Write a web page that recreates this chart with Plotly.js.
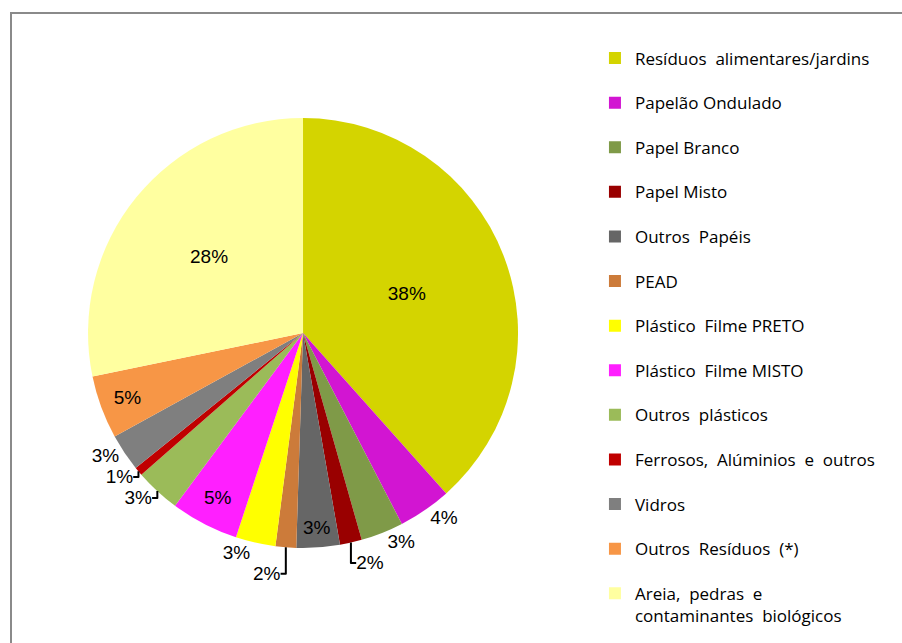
<!DOCTYPE html>
<html>
<head>
<meta charset="utf-8">
<script src="https://cdn.plot.ly/plotly-3.0.1.min.js"></script>
<style>
	html, body { margin: 0; padding: 0; background: #fff; }
	#chart { width: 902px; height: 643px; }
</style>
</head>
<body>
<div id="chart"></div>
<script>
const categories = [
	"Resíduos  alimentares/jardins",
	"Papelão Ondulado",
	"Papel Branco",
	"Papel Misto",
	"Outros  Papéis",
	"PEAD",
	"Plástico  Filme PRETO",
	"Plástico  Filme MISTO",
	"Outros  plásticos",
	"Ferrosos,  Alúminios  e  outros",
	"Vidros",
	"Outros  Resíduos  (*)",
	"Areia,  pedras  e<br>contaminantes  biológicos"
];
const shares = [38.4, 4.0, 3.2, 1.65, 3.25, 1.55, 3.0, 5.1, 3.4, 0.65, 2.8, 4.75, 28.25];
const colors = [
	"#d4d400", "#d215d2", "#7f9a48", "#990000", "#666666", "#cc7b3a", "#ffff00",
	"#ff1fff", "#9bbb59", "#c00000", "#7f7f7f", "#f79646", "#ffffa0"
];
const labelPlace = [
	"inside", "outside", "outside", "outside", "inside", "outside", "outside",
	"inside", "outside", "outside", "outside", "inside", "inside"
];

const pie = {
	type: "pie",
	labels: categories,
	values: shares,
	sort: false,
	direction: "clockwise",
	rotation: 0,
	marker: { colors: colors, line: { width: 0 } },
	texttemplate: "%{percent:.0%}",
	textposition: labelPlace,
	insidetextorientation: "horizontal",
	textfont: { family: "Liberation Sans, Arial", size: 19, color: "#000" },
	hoverinfo: "label+percent",
	showlegend: false,
	domain: { x: [0.0976, 0.5743], y: [0.1477, 0.8165] }
};

// legend entries, one group each so they can be spaced like the original
const keys = categories.map((c, i) => {
	return {
		type: "scatter",
		mode: "markers",
		x: [null],
		y: [null],
		name: c,
		legendgroup: "g" + i,
		marker: { symbol: "square", size: 12, color: colors[i] },
		hoverinfo: "skip"
	};
});

const layout = {
	width: 902,
	height: 643,
	margin: { l: 0, r: 0, t: 0, b: 0, pad: 0 },
	paper_bgcolor: "#fff",
	plot_bgcolor: "rgba(0,0,0,0)",
	xaxis: { visible: false },
	yaxis: { visible: false },
	legend: {
		x: 0.6596,
		xanchor: "left",
		y: 0.937,
		yanchor: "top",
		valign: "top",
		tracegroupgap: 19.5,
		bgcolor: "rgba(0,0,0,0)",
		font: { family: "Open Sans", size: 17, color: "#000" }
	},
	shapes: [
		{
			type: "rect",
			xref: "paper",
			yref: "paper",
			x0: 11 / 902,
			x1: 1.05,
			y0: -0.05,
			y1: 1 - 13 / 643,
			line: { color: "#8a8a8a", width: 2 }
		}
	]
};

Plotly.newPlot("chart", [pie].concat(keys), layout, { displayModeBar: false });
</script>
</body>
</html>
